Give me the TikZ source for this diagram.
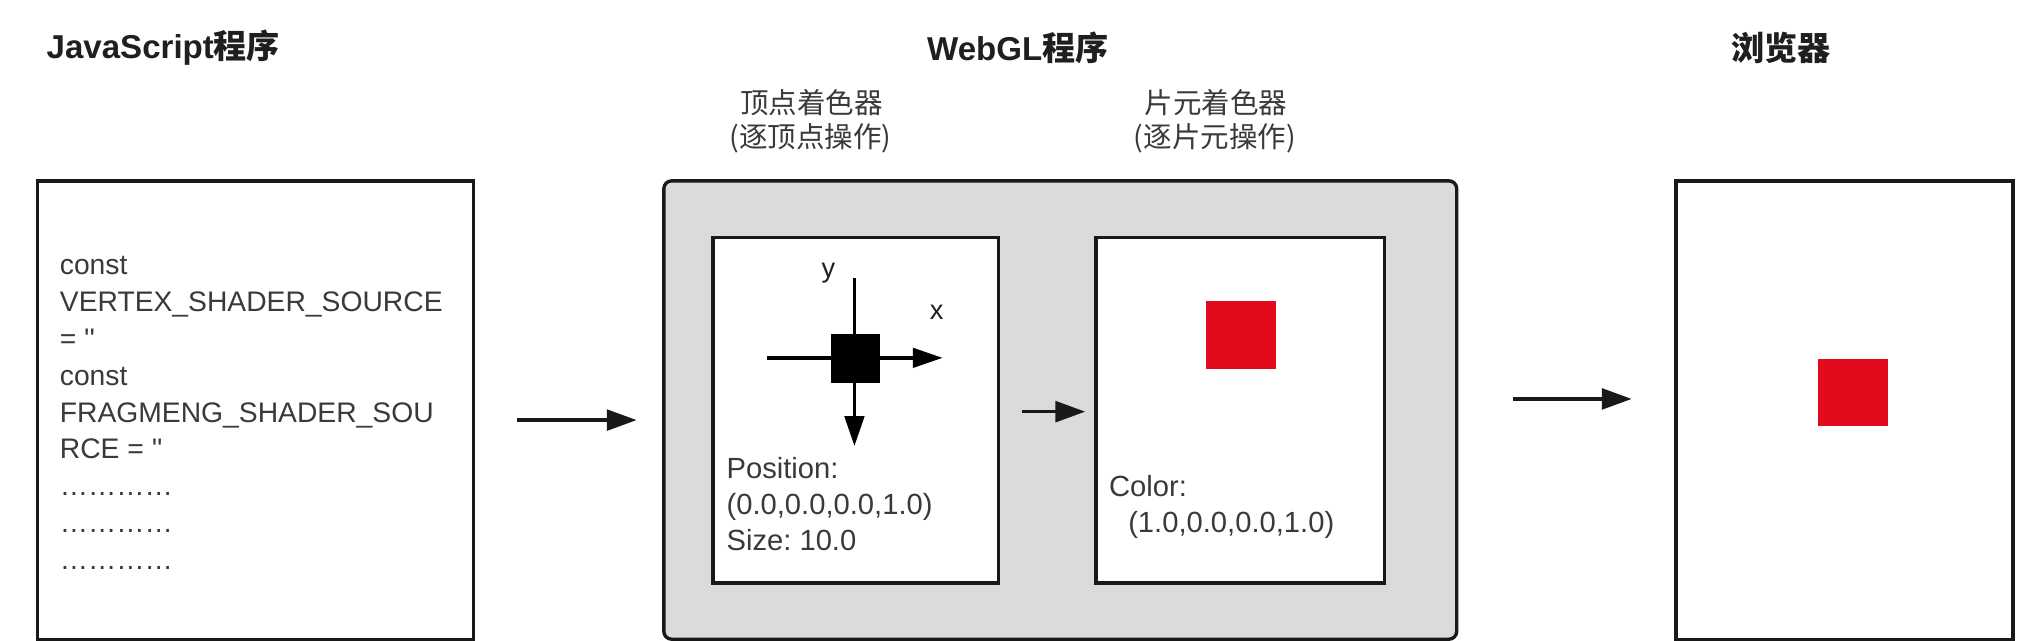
\documentclass[tikz,border=0pt]{standalone}
\usepackage{fontspec}
\setmainfont{Liberation Sans}
\newfontfamily\plain{Liberation Sans}
\newfontfamily\cjk{Noto Sans CJK SC}
\usetikzlibrary{arrows.meta}
\definecolor{panelgray}{RGB}{219,219,219}
\definecolor{sqred}{RGB}{228,10,30}
\definecolor{txt}{RGB}{58,58,58}
\frenchspacing
\begin{document}
\begin{tikzpicture}[x=1pt,y=-1pt,
  frame/.style={draw=black!90, line width=2.6pt, fill=white, inner sep=0pt, outer sep=0pt},
  title/.style={font=\fontsize{25.5}{30}\selectfont\bfseries, text=black!88, inner sep=0pt},
  sub/.style={font=\cjk\fontsize{22}{26}\selectfont, text=txt, inner sep=0pt},
  code/.style={font=\plain\fontsize{21.8}{28.5}\selectfont, text=txt, inner sep=0pt, anchor=base west},
  info/.style={font=\plain\fontsize{22.5}{28}\selectfont, text=txt, inner sep=0pt, anchor=base west},
  axlabel/.style={font=\plain\fontsize{21}{24}\selectfont, text=black!88, inner sep=0pt},
  flow/.style={line width=2.6pt, draw=black!90, -{Triangle[length=23pt,width=16pt]}},
  axis/.style={line width=2.6pt, draw=black, -{Triangle[length=23pt,width=15pt]}},
  redsq/.style={fill=sqred, draw=none, inner sep=0pt, outer sep=0pt}
]
\fill[white] (0,0) rectangle (1568,494);
\useasboundingbox (0,0) rectangle (1568,494);

% titles
\node[title] (t1) at (126,37) {JavaScript{\cjk 程序}};
\node[title] (t2) at (785,37) {WebGL{\cjk 程序}};
\node[title] (t3) at (1373.5,37) {\cjk 浏览器};
\node[sub] (s1) at (626,79) {顶点着色器};
\node[sub] (s1b) at (625,107) {(逐顶点操作)};
\node[sub] (s2) at (938,79) {片元着色器};
\node[sub] (s2b) at (937,107) {(逐片元操作)};

% boxes
\node[frame, minimum width=336pt, minimum height=353.5pt] (js) at (197,316.25) {};
\node[frame, fill=panelgray, rounded corners=6pt, minimum width=611.5pt, minimum height=353.5pt] (gl) at (817.75,316.25) {};
\node[frame, minimum width=220pt, minimum height=266.6pt] (vtx) at (660,316.3) {};
\node[frame, minimum width=222.7pt, minimum height=266.6pt] (frg) at (956.65,316.3) {};
\node[frame, minimum width=260pt, minimum height=353.5pt] (br) at (1422.65,316.25) {};

% JavaScript source text
\foreach \t [count=\i from 0] in {const, VERTEX\_SHADER\_SOURCE, {= ''}, const, FRAGMENG\_SHADER\_SOU, {RCE = ''}, …………, …………, …………}
  \node[code] (js\i) at (46,211.5+28.5*\i) {\t};

% vertex shader content
\coordinate (xs) at (591.4,276);
\coordinate (xe) at (727,276);
\coordinate (ys) at (659,214.7);
\coordinate (ye) at (659,344);
\draw[axis] (xs) -- (xe);
\draw[axis] (ys) -- (ye);
\node[fill=black, inner sep=0pt, minimum size=38pt] (pt) at (660,276.5) {};
\node[axlabel] (ylab) at (639,211) {y};
\node[axlabel] (xlab) at (722.5,240.5) {x};
\node[info] (pos1) at (560.2,369) {Position:};
\node[info] (pos2) at (560.2,397) {(0.0,0.0,0.0,1.0)};
\node[info] (pos3) at (560.2,424.5) {Size: 10.0};

% fragment shader content
\node[redsq, minimum width=54pt, minimum height=52.7pt] (fsq) at (957,258.4) {};
\node[info] (col1) at (855.2,383) {Color:};
\node[info] (col2) at (870,410.8) {(1.0,0.0,0.0,1.0)};

% browser content
\node[redsq, minimum width=54.5pt, minimum height=51.6pt] (bsq) at (1429.25,302.8) {};

% connectors
\draw[flow] ([xshift=33.5pt,yshift=-7.75pt]js.east) -- ([xshift=-21pt,yshift=-7.75pt]gl.west);
\draw[flow] ([xshift=18pt,yshift=-1.2pt]vtx.east) -- ([xshift=-8.3pt,yshift=-1.2pt]frg.west);
\draw[flow] ([xshift=43.5pt,yshift=8.55pt]gl.east) -- ([xshift=-34.2pt,yshift=8.55pt]br.west);
\end{tikzpicture}
\end{document}
